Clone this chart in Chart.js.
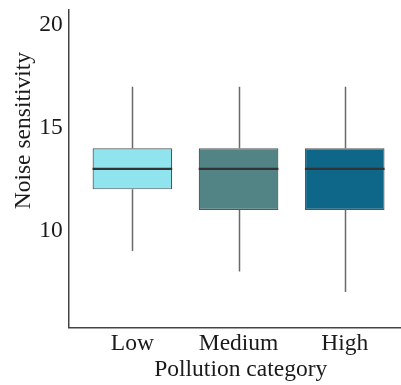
<!DOCTYPE html>
<html>
<head>
<meta charset="utf-8">
<script src="https://cdn.jsdelivr.net/npm/chart.js@4"></script>
<style>
  html, body { margin: 0; padding: 0; background: #fff; }
  #wrap { width: 401px; height: 385px; }
</style>
</head>
<body>
<div id="wrap"><canvas id="boxChart"></canvas></div>
<script>
// pollution categories and box stats
const categories = ['Low', 'Medium', 'High'];
const whiskerLow = [9, 8, 7];
const q1 = [12, 11, 11];
const medians = [13, 13, 13];
const q3 = [14, 14, 14];
const whiskerHigh = [17, 17, 17];
const boxColors = ['#8fe4ee', '#528385', '#0e6689'];
const yTicks = [10, 15, 20];

const boxData = categories.map((c, i) => ({ x: i + 1, y: [q1[i], q3[i]] }));

// whiskers under the boxes, medians on top
const boxPlugin = {
    id: 'boxParts',
    beforeDatasetsDraw(chart) {
        const { ctx, scales: { x, y } } = chart;
        ctx.save();
        ctx.strokeStyle = '#6a6a6a';
        ctx.lineWidth = 1.5;
        categories.forEach((c, i) => {
            const px = Math.round(x.getPixelForValue(i + 1)) + 0.5;
            ctx.beginPath();
            ctx.moveTo(px, y.getPixelForValue(whiskerHigh[i]));
            ctx.lineTo(px, y.getPixelForValue(q3[i]));
            ctx.moveTo(px, y.getPixelForValue(q1[i]));
            ctx.lineTo(px, y.getPixelForValue(whiskerLow[i]));
            ctx.stroke();
        });
        ctx.restore();
    },
    afterDatasetsDraw(chart) {
        const { ctx, scales: { y } } = chart;
        const meta = chart.getDatasetMeta(0);
        ctx.save();
        ctx.strokeStyle = '#333';
        ctx.lineWidth = 2.2;
        meta.data.forEach((bar, i) => {
            const half = bar.width / 2;
            const py = y.getPixelForValue(medians[i]);
            ctx.beginPath();
            ctx.moveTo(bar.x - half, py);
            ctx.lineTo(bar.x + half, py);
            ctx.stroke();
        });
        ctx.restore();
    }
};

const serif = "'Liberation Serif', 'DejaVu Serif', serif";

new Chart(document.getElementById('boxChart'), {
    type: 'bar',
    data: {
        datasets: [{
            data: boxData,
            backgroundColor: boxColors,
            borderColor: '#555',
            borderWidth: 1.2,
            borderSkipped: false,
            barPercentage: 0.75,
            categoryPercentage: 1
        }]
    },
    options: {
        responsive: true,
        maintainAspectRatio: false,
        animation: false,
        layout: { padding: { top: 10, right: 0, left: 6, bottom: 1 } },
        plugins: { legend: { display: false }, tooltip: { enabled: false } },
        scales: {
            x: {
                type: 'linear',
                offset: false,
                min: 0.4,
                max: 3.53,
                afterBuildTicks: s => { s.ticks = categories.map((c, i) => ({ value: i + 1 })); },
                ticks: {
                    callback: (v) => categories[v - 1],
                    color: '#1a1a1a',
                    font: { family: serif, size: 23.5 },
                    padding: -2,
                    maxRotation: 0,
                    autoSkip: false
                },
                grid: { display: false, drawTicks: true, tickLength: 4, tickColor: '#444' },
                border: { display: true, color: '#444', width: 1.5 },
                title: {
                    display: true,
                    // leading spaces nudge it right like the original
                    text: '  Pollution category',
                    color: '#1a1a1a',
                    font: { family: serif, size: 23.5 },
                    padding: { top: 0, bottom: 0 }
                }
            },
            y: {
                min: 5.27,
                max: 20.73,
                afterBuildTicks: s => { s.ticks = yTicks.map(v => ({ value: v })); },
                afterFit: s => { s.paddingTop = 0; s.paddingBottom = 0; },
                ticks: {
                    color: '#1a1a1a',
                    font: { family: serif, size: 23.5 },
                    padding: 2
                },
                grid: { display: false, drawTicks: true, tickLength: 4, tickColor: '#444' },
                border: { display: true, color: '#444', width: 1.5 },
                title: {
                    display: true,
                    // leading spaces (rotated text) push the title upward, as in the original
                    text: ' '.repeat(13) + 'Noise sensitivity',
                    color: '#1a1a1a',
                    font: { family: serif, size: 23.5 },
                    padding: { top: 4, bottom: -1 }
                }
            }
        }
    },
    plugins: [boxPlugin]
});
</script>
</body>
</html>
